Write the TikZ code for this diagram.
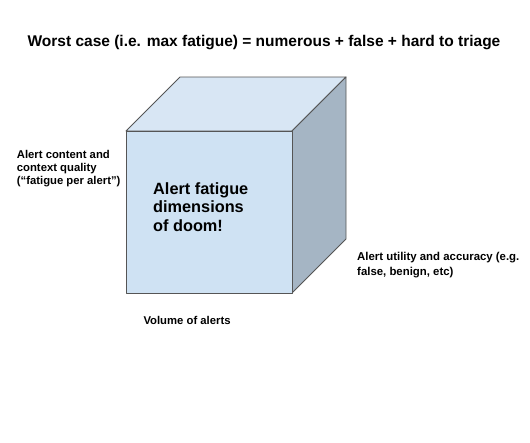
\documentclass[tikz,border=0pt]{standalone}
\usepackage{fontspec}
\setmainfont{Liberation Sans}
\definecolor{cubefront}{HTML}{CFE2F3}
\definecolor{cubetop}{HTML}{D8E6F4}
\definecolor{cubeside}{HTML}{A5B5C4}
\definecolor{cubeedge}{HTML}{555555}
\begin{document}
\begin{tikzpicture}[x=1pt, y=-1pt,
    lbl/.style={font=\fontsize{11.3}{13}\selectfont\bfseries, align=left, inner sep=0pt},
    face/.style={draw=cubeedge, line width=0.9pt, line join=round}]
            \useasboundingbox (0,0) rectangle (530,442);
            % cube
            \draw[face, fill=cubetop] (126,131) -- (180,77) -- (346,77) -- (292,131) -- cycle;
            \draw[face, fill=cubeside] (292,131) -- (346,77) -- (346,239) -- (292,293) -- cycle;
            \draw[face, fill=cubefront] (126,131) rectangle (292,293);
            \node[font=\fontsize{15.5}{18}\selectfont\bfseries, anchor=base, inner sep=0pt] (title) at (264,46.7) {Worst case (i.e. max fatigue) = numerous + false + hard to triage};
            \node[font=\fontsize{16.3}{18.4}\selectfont\bfseries, align=left, inner sep=0pt, anchor=north west] (doom) at (153,182.3) {Alert fatigue\\dimensions\\of doom!};
            \node[lbl, anchor=north west] (content) at (16.7,150.2) {Alert content and\\context quality\\(“fatigue per alert”)};
            \node[lbl, font=\fontsize{11.4}{15}\selectfont\bfseries, anchor=north west] (utility) at (357,251.6) {Alert utility and accuracy (e.g.\\false, benign, etc)};
            \node[lbl, anchor=base west] (volume) at (143.3,324) {Volume of alerts};
        \end{tikzpicture}
\end{document}
